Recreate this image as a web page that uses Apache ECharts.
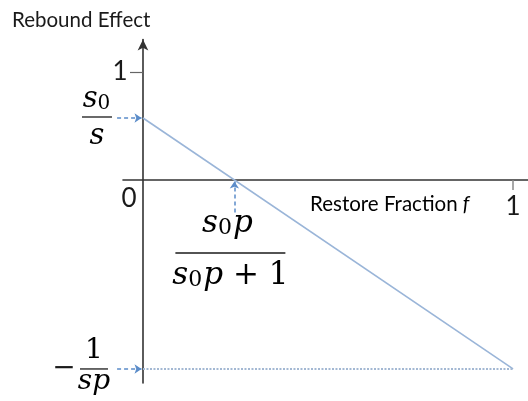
<!DOCTYPE html>
<html><head><meta charset="utf-8">
<script src="https://cdn.jsdelivr.net/npm/echarts@6/dist/echarts.min.js"></script>
<style>html,body{margin:0;padding:0;background:#fff}#c{width:528px;height:401px}</style>
</head><body><div id="c"></div>
<script>
// ---- data ----
const fractionEnds = [0, 1];             // restore fraction f at line ends
const reboundValues = [0.574, -1.75];    // rebound effect: s0/s at f=0, -1/(sp) at f=1
const floorValues = [-1.75, -1.75];      // -1/(sp) reference level
const crossingF = [0.247];               // s0p/(s0p+1): zero crossing
const xTickValues = [1];
const yTickValues = [1];
const originLabel = ['0'];

const SANS = 'Lato, "Open Sans", sans-serif';
const SERIF = '"DejaVu Serif", serif';
const AX = '#333';
const ARROW = '#5b8cc9';

const chart = echarts.init(document.getElementById('c'), null, {renderer: 'canvas'});

const arrowData = [
  {coords: [[-0.07, reboundValues[0]], [-0.004, reboundValues[0]]]},
  {coords: [[-0.07, floorValues[0]], [-0.004, floorValues[0]]]},
  {coords: [[crossingF[0], -0.30], [crossingF[0], -0.015]]}
];

chart.setOption({
  animation: false,
  backgroundColor: '#fff',
  grid: {left: 123, width: 405.2, top: 39.6, height: 343.4, containLabel: false, outerBoundsMode: 'none'},
  xAxis: {
    type: 'value', min: -0.054, max: 1.041,
    axisLine: {onZero: true, lineStyle: {color: AX, width: 1.6}},
    axisTick: {show: true, customValues: xTickValues, length: 10, lineStyle: {color: '#8a8a8a', width: 1.5}},
    axisLabel: {show: false},
    splitLine: {show: false}
  },
  yAxis: {
    type: 'value', min: -1.88, max: 1.3,
    axisLine: {onZero: true, symbol: ['none', 'arrow'], symbolSize: [8, 11], lineStyle: {color: AX, width: 1.6}},
    axisTick: {show: true, customValues: yTickValues, length: 13, lineStyle: {color: '#666', width: 1.2}},
    axisLabel: {show: false},
    splitLine: {show: false}
  },
  series: [
    {
      type: 'line', name: 'rebound', showSymbol: false, symbol: 'none',
      data: fractionEnds.map((f, i) => [f, reboundValues[i]]),
      lineStyle: {color: '#9ab5d8', width: 1.6}
    },
    {
      type: 'line', name: 'floor', showSymbol: false, symbol: 'none',
      data: fractionEnds.map((f, i) => [f, floorValues[i]]),
      lineStyle: {color: '#a3b8d3', width: 2, type: [2, 1.5]}
    },
    {
      type: 'lines', coordinateSystem: 'cartesian2d', clip: false,
      symbol: ['none', 'arrow'], symbolSize: 7,
      lineStyle: {color: ARROW, width: 1.5, type: [4, 3], opacity: 1},
      data: arrowData
    }
  ]
});

function px(x, y) { return chart.convertToPixel({gridIndex: 0}, [x, y]); }

const richMath = (size) => ({
  i: {fontFamily: SERIF, fontStyle: 'italic', fontSize: size, lineHeight: size, color: '#1a1a1a'},
  r: {fontFamily: SERIF, fontSize: size, lineHeight: size, color: '#1a1a1a'},
  sub: {fontFamily: SERIF, fontSize: Math.round(size * 0.7), lineHeight: Math.round(size * 0.7), verticalAlign: 'bottom', color: '#1a1a1a', padding: [0, 1, 0, 0]}
});

function fraction(cx, barY, halfW, num, den, numDy, denDy, size, numDx) {
  return [
    {type: 'text', x: cx + (numDx || 0), y: barY + numDy, style: {text: num, rich: richMath(size), align: 'center', verticalAlign: 'middle'}},
    {type: 'line', shape: {x1: cx - halfW, y1: barY, x2: cx + halfW, y2: barY}, style: {stroke: '#1a1a1a', lineWidth: 1.3}},
    {type: 'text', x: cx, y: barY + denDy, style: {text: den, rich: richMath(size), align: 'center', verticalAlign: 'middle'}}
  ];
}

const pS0 = px(0, reboundValues[0]);
const pCross = px(crossingF[0], 0);
const pFloor = px(0, floorValues[0]);
const pOrigin = px(0, 0);

const tickLabels = [];
xTickValues.forEach(v => {
  const p = px(v, 0);
  tickLabels.push({type: 'text', x: p[0], y: p[1] + 27, style: {text: String(v), fontFamily: SANS, fontSize: 26, fill: '#1a1a1a', align: 'center', verticalAlign: 'middle'}});
});
yTickValues.forEach(v => {
  const p = px(0, v);
  tickLabels.push({type: 'text', x: p[0] - 23, y: p[1], style: {text: String(v), fontFamily: SANS, fontSize: 26, fill: '#1a1a1a', align: 'center', verticalAlign: 'middle'}});
});

const graphics = [
  {type: 'text', left: 12, top: 10, style: {text: 'Rebound Effect', fontFamily: SANS, fontSize: 20.5, fill: '#1a1a1a'}},
  {type: 'text', x: 310, y: pOrigin[1] + 24, style: {text: '{a|Restore Fraction }{f|f}', verticalAlign: 'middle',
    rich: {a: {fontFamily: SANS, fontSize: 20.5, color: '#1a1a1a'}, f: {fontFamily: SANS, fontStyle: 'italic', fontSize: 20.5, color: '#1a1a1a'}}}},
  {type: 'text', x: pOrigin[0] - 14, y: pOrigin[1] + 19, style: {text: originLabel[0], fontFamily: SANS, fontSize: 26, fill: '#1a1a1a', align: 'center', verticalAlign: 'middle'}},
  ...tickLabels,
  ...fraction(pS0[0] - 46, pS0[1] - 1, 15, '{i|s}{sub|0}', '{i|s}', -18, 19, 29),
  ...fraction(pCross[0] - 4, pCross[1] + 73, 55, '{i|s}{sub|0}{i|p}', '{i|s}{sub|0}{i|p}{r| + 1}', -29, 23, 31, -3),
  {type: 'text', x: pFloor[0] - 79, y: pFloor[1], style: {text: '−', fontFamily: SERIF, fontSize: 28, fill: '#1a1a1a', align: 'center', verticalAlign: 'middle'}},
  ...fraction(pFloor[0] - 49, pFloor[1], 14, '{r|1}', '{i|sp}', -18, 13, 28)
];
chart.setOption({graphic: graphics});
</script>
</body></html>
